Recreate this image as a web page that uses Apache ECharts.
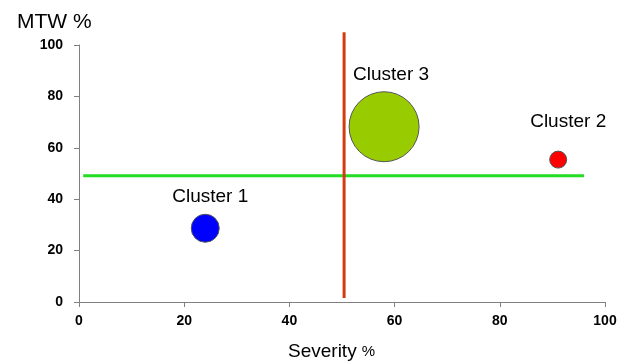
<!DOCTYPE html>
<html>
<head>
<meta charset="utf-8">
<script src="https://cdn.jsdelivr.net/npm/echarts@6/dist/echarts.min.js"></script>
<style>
html,body{margin:0;padding:0;background:#fff;}
#c{width:634px;height:363px;}
</style>
</head>
<body>
<div id="c"></div>
<script>
var clusterNames = ['Cluster 1', 'Cluster 2', 'Cluster 3'];
var severity = [24, 91.1, 58.0];
var mtw = [28.7, 55.4, 68.2];
var bubbleSize = [28, 17, 70];
var clusterColors = ['#0000ff', '#ff0000', '#99cc00'];
var xTicks = [0, 20, 40, 60, 80, 100];
var yTicks = [0, 20, 40, 60, 80, 100];
var vLine = [[50.4, 1.6], [50.4, 105]];
var hLine = [[0.8, 49.1], [96.0, 49.1]];

var labelOffsets = [[5, 0], [10, -12], [7, 0]];
var font = '"Liberation Sans", Arial, sans-serif';

var chart = echarts.init(document.getElementById('c'));
chart.setOption({
  animation: false,
  textStyle: {fontFamily: font},
  title: [
    {text: 'MTW %', left: 12, top: 7, textStyle: {fontSize: 21, fontWeight: 'normal', color: '#000', fontFamily: font}},
    {text: '{a|Severity} {b|%}', left: 283, top: 337,
     textStyle: {fontWeight: 'normal', rich: {a: {fontSize: 19, fontWeight: 'normal', color: '#000', fontFamily: font}, b: {fontSize: 15, fontWeight: 'normal', color: '#000', fontFamily: font}}}}
  ],
  grid: {left: 79, right: 29, top: 45, bottom: 61},
  xAxis: {
    type: 'value', min: 0, max: 100, interval: 20,
    axisLine: {lineStyle: {color: '#808080', width: 1}},
    axisTick: {show: true, length: 5, lineStyle: {color: '#808080'}},
    splitLine: {show: false},
    axisLabel: {margin: 12, fontSize: 14, fontWeight: 'bold', color: '#000', fontFamily: font,
      formatter: function (v) { return xTicks.indexOf(v) >= 0 ? String(v) : ''; }}
  },
  yAxis: {
    type: 'value', min: 0, max: 100, interval: 20,
    axisLine: {show: true, lineStyle: {color: '#808080', width: 1}},
    axisTick: {show: true, length: 5, lineStyle: {color: '#808080'}},
    splitLine: {show: false},
    axisLabel: {margin: 16, fontSize: 14, fontWeight: 'bold', color: '#000', fontFamily: font,
      formatter: function (v) { return yTicks.indexOf(v) >= 0 ? String(v) : ''; }}
  },
  series: [
    {
      type: 'line', data: hLine, clip: false, symbol: 'none', silent: true,
      lineStyle: {color: '#22dd22', width: 3}, z: 2
    },
    {
      type: 'line', data: vLine, clip: false, symbol: 'none', silent: true,
      lineStyle: {color: '#d23c10', width: 3}, z: 3
    },
    {
      type: 'scatter', z: 5,
      itemStyle: {opacity: 1},
      data: clusterNames.map(function (n, i) {
        return {
          name: n,
          value: [severity[i], mtw[i]],
          symbolSize: bubbleSize[i],
          itemStyle: {color: clusterColors[i], borderColor: '#555', borderWidth: 1, opacity: 1},
          label: {show: true, position: 'top', distance: 7, offset: labelOffsets[i],
            formatter: n, fontSize: 19, color: '#000', opacity: 1, fontFamily: font}
        };
      })
    }
  ]
});
</script>
</body>
</html>
